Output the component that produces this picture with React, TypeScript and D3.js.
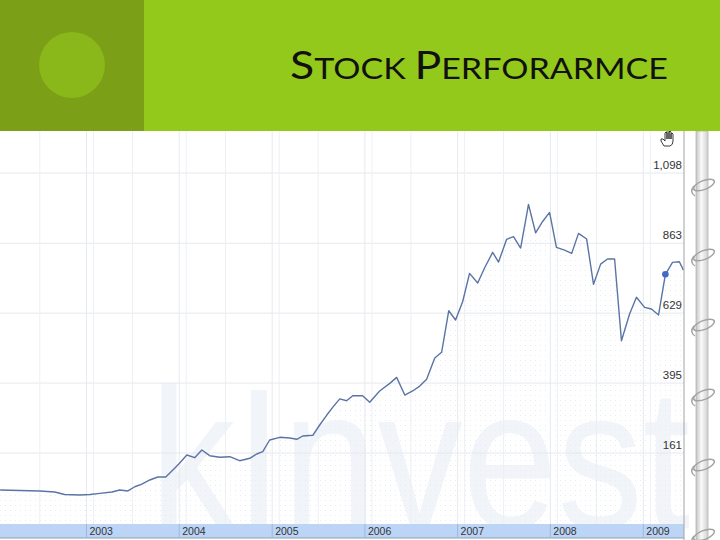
import React from 'react';
import * as d3 from 'd3';

// price series (date, close)
const dates = [
  '2002-01-26', '2002-04-13', '2002-07-01', '2002-08-29', '2002-10-07', '2002-12-05',
  '2003-01-15', '2003-02-23', '2003-04-11', '2003-05-12', '2003-06-13', '2003-07-10',
  '2003-08-07', '2003-09-07', '2003-10-09', '2003-11-09', '2003-12-15', '2004-01-03',
  '2004-01-31', '2004-03-02', '2004-03-30', '2004-04-30', '2004-06-09', '2004-07-18',
  '2004-08-26', '2004-10-05', '2004-11-01', '2004-11-25', '2004-12-22', '2005-01-31',
  '2005-03-11', '2005-04-08', '2005-05-01', '2005-06-10', '2005-07-07', '2005-08-04',
  '2005-08-31', '2005-09-24', '2005-10-21', '2005-11-14', '2005-12-23', '2006-01-20',
  '2006-02-28', '2006-04-09', '2006-05-06', '2006-06-07', '2006-07-08', '2006-08-05',
  '2006-09-01', '2006-10-03', '2006-10-30', '2006-11-27', '2006-12-24', '2007-01-21',
  '2007-02-17', '2007-03-21', '2007-04-17', '2007-05-19', '2007-06-11', '2007-07-13',
  '2007-08-09', '2007-09-06', '2007-09-26', '2007-10-07', '2007-11-04', '2007-12-01',
  '2007-12-29', '2008-01-25', '2008-02-26', '2008-03-25', '2008-04-21', '2008-05-23',
  '2008-06-19', '2008-07-17', '2008-08-13', '2008-09-10', '2008-10-07', '2008-11-08',
  '2008-12-05', '2009-01-06', '2009-02-02', '2009-03-02', '2009-03-29', '2009-04-26',
  '2009-05-23', '2009-06-08',
];
const prices = [
  37, 35.5, 34, 30.5, 22, 20.5,
  22, 26, 30.5, 37, 34, 48,
  57, 70.7, 80.7, 80.7, 110.8, 127.5,
  154.3, 145.3, 171, 152, 146.6, 148.6,
  135.2, 143.3, 157.7, 165.3, 204.5, 213.5,
  211, 206.8, 217.9, 220.2, 254.7, 288,
  318, 342, 336, 352.7, 352.7, 330.6,
  368.5, 394, 414, 355, 368.5, 385,
  407.6, 479, 498, 637, 606, 668,
  762, 730, 780, 832.5, 800, 876,
  885, 847, 940.6, 993, 898, 935,
  966, 849, 840, 829, 896, 877,
  725.5, 793, 810, 810, 536.8, 626,
  682, 648.5, 643, 623, 759, 799,
  801, 773,
];
const highlightDate = '2009-03-29';

const yTicks = [161, 395, 629, 863, 1098];
const yearTicks = ['2003', '2004', '2005', '2006', '2007', '2008', '2009'];
const halfYears = [
  '2002-07-01', '2003-07-01', '2004-07-01', '2005-07-01', '2006-07-01', '2007-07-01', '2008-07-01',
];
const ringRows = [185, 255, 325, 395, 465, 535];
const title = [
  { t: 'S', big: true }, { t: 'TOCK ', big: false },
  { t: 'P', big: true }, { t: 'ERFORARMCE', big: false },
];
const watermark = 'kInvest';

const W = 720;
const H = 540;
const headerH = 131;
const plotRight = 684;
const bandTop = 524;
const bandBottom = 538;

const parse = d3.timeParse('%Y-%m-%d');
const yearParse = d3.timeParse('%Y');

export default function App() {
  const data = dates.map((d, i) => ({ date: parse(d) as Date, value: prices[i] }));

  const x = d3
    .scaleTime()
    .domain([yearParse('2003') as Date, yearParse('2009') as Date])
    .range([86.5, 643.3]);
  const y = d3.scaleLinear().domain([161, 1098]).range([453, 173]);

  const line = d3
    .line<{ date: Date; value: number }>()
    .x(d => x(d.date))
    .y(d => y(d.value));
  const area = d3
    .area<{ date: Date; value: number }>()
    .x(d => x(d.date))
    .y0(bandTop)
    .y1(d => y(d.value));

  const hl = data.find(d => d.date.getTime() === (parse(highlightDate) as Date).getTime())!;
  const fmt = d3.format(',');

  return (
    <svg
      width={W}
      height={H}
      style={{ position: 'absolute', left: 0, top: 0, background: '#fff' }}
      fontFamily="'Liberation Sans', Arial, sans-serif"
    >
      <defs>
        <pattern id="dots" width="5" height="5" patternUnits="userSpaceOnUse">
          <rect width="1" height="1" fill="#e8ecf3" />
        </pattern>
        <linearGradient id="bar" x1="0" x2="1" y1="0" y2="0">
          <stop offset="0" stopColor="#c4c4c4" />
          <stop offset="0.45" stopColor="#fafafa" />
          <stop offset="1" stopColor="#cfcfcf" />
        </linearGradient>
        <clipPath id="plot">
          <rect x={0} y={headerH} width={plotRight} height={bandTop - headerH} />
        </clipPath>
      </defs>

      {/* watermark */}
      <text
        x={150}
        y={528}
        fontSize={200}
        textLength={540}
        lengthAdjust="spacingAndGlyphs"
        fill="#f1f4f9"
        fontFamily="'Liberation Sans', Arial, sans-serif"
      >
        {watermark}
      </text>

      {/* area under the line */}
      <g clipPath="url(#plot)">
        <path d={area(data) ?? ''} fill="url(#dots)" />
      </g>

      {/* grid */}
      {yTicks.map(v => (
        <line key={v} x1={0} x2={plotRight} y1={y(v)} y2={y(v)} stroke="#e4e8ee" />
      ))}
      {halfYears.map(d => (
        <line
          key={d}
          x1={x(parse(d) as Date)}
          x2={x(parse(d) as Date)}
          y1={headerH}
          y2={bandTop}
          stroke="#eceff3"
        />
      ))}
      {yearTicks.map(yr => {
        const px = x(yearParse(yr) as Date);
        return (
          <g key={yr}>
            <line x1={px} x2={px} y1={headerH} y2={bandTop} stroke="#e6e9ee" />
            <line x1={px + 7} x2={px + 7} y1={headerH} y2={bandTop} stroke="#eef0f4" />
          </g>
        );
      })}

      {/* price line */}
      <path d={line(data) ?? ''} fill="none" stroke="#5b74a6" strokeWidth={1.4} strokeLinejoin="round" />
      <circle cx={x(hl.date)} cy={y(hl.value)} r={3.3} fill="#4569c2" />

      {/* right axis labels */}
      {yTicks.map(v => (
        <text key={v} x={682} y={y(v) - 4.5} textAnchor="end" fontSize={11.5} fill="#333">
          {fmt(v)}
        </text>
      ))}

      {/* bottom time band */}
      <rect x={0} y={bandTop} width={plotRight} height={bandBottom - bandTop} fill="#bcd5f6" />
      <line x1={0} x2={plotRight} y1={bandBottom} y2={bandBottom} stroke="#8f9fb3" />
      {yearTicks.map(yr => {
        const px = x(yearParse(yr) as Date);
        return (
          <g key={yr}>
            <line x1={px} x2={px} y1={bandTop} y2={bandBottom} stroke="#9db8de" />
            <text x={px + 3} y={bandBottom - 3} fontSize={10.5} fill="#333">
              {yr}
            </text>
          </g>
        );
      })}
      <line x1={plotRight} x2={plotRight} y1={headerH} y2={H} stroke="#a3a3a3" />

      {/* pan cursor */}
      <path
        d="M664 146 l-3 -5 q-1 -3 2 -2 l2 2 v-8 q1 -2 2 0 v6 v-8 q1 -2 2 0 v8 v-7 q1 -2 2 0 v7 v-5 q1 -2 2 0 v7 q0 4 -3 5 z"
        fill="#fff"
        stroke="#222"
        strokeWidth={0.9}
      />

      {/* binder */}
      <rect x={696} y={headerH} width={12} height={H - headerH} fill="url(#bar)" stroke="#b4b4b4" strokeWidth={0.8} />
      {ringRows.map(r => (
        <g key={r} fill="none" stroke="#a3a3a3" strokeWidth={1.5}>
          <ellipse cx={704} cy={r} rx={11} ry={4.5} transform={`rotate(-22 704 ${r})`} />
          <path d={`M694 ${r + 1} q-5 6 1 10`} />
        </g>
      ))}

      {/* header */}
      <rect x={0} y={0} width={W} height={headerH} fill="#93c91a" />
      <rect x={0} y={0} width={144} height={headerH} fill="#7b9f16" />
      <circle cx={72} cy={65} r={33} fill="#8ab81a" />
      <text
        x={290}
        y={79}
        textLength={378}
        lengthAdjust="spacingAndGlyphs"
        fill="#111"
        fontFamily="Lato, 'Open Sans', sans-serif"
      >
        {title.map((p, i) => (
          <tspan key={i} fontSize={p.big ? 38 : 29}>
            {p.t}
          </tspan>
        ))}
      </text>
    </svg>
  );
}
